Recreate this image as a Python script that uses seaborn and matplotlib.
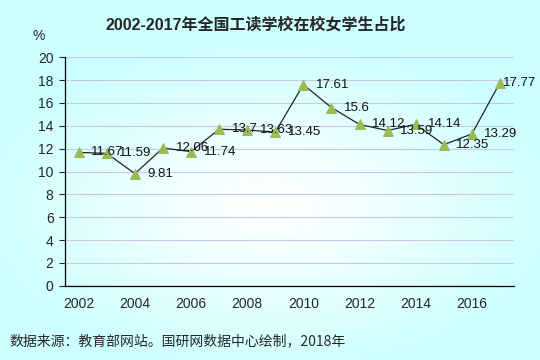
import numpy as np
import pandas as pd
import matplotlib
matplotlib.use("Agg")
import matplotlib.pyplot as plt
import seaborn as sns

years = list(range(2002, 2018))
share = [11.67, 11.59, 9.81, 12.06, 11.74, 13.7, 13.63, 13.45,
         17.61, 15.6, 14.12, 13.59, 14.14, 12.35, 13.29, 17.77]
labels = ["11.67", "11.59", "9.81", "12.06", "11.74", "13.7", "13.63", "13.45",
          "17.61", "15.6", "14.12", "13.59", "14.14", "12.35", "13.29", "17.77"]
tick_years = [2002, 2004, 2006, 2008, 2010, 2012, 2014, 2016]

title = "2002-2017年全国工读学校在校女学生占比"
source = "数据来源：教育部网站。国研网数据中心绘制，2018年"

sns.set_style("white")
plt.rcParams["font.family"] = ["Liberation Sans", "Noto Sans CJK SC", "DejaVu Sans"]

df = pd.DataFrame({"year": years, "share": share})

fig = plt.figure(figsize=(5.4, 3.6), dpi=100)

# radial background: white centre, pale cyan edges
bg = fig.add_axes([0, 0, 1, 1], zorder=-10)
yy, xx = np.mgrid[1:-1:200j, -1:1:300j]
r = np.clip(np.sqrt(xx ** 2 + ((yy + 0.15) / 0.85) ** 2) / 1.1, 0, 1)
white = np.array([1.0, 1.0, 1.0])
cyan = np.array([0.80, 1.0, 1.0])
w = r[..., None] ** 1.1
img = white[None, None, :] * (1 - w) + cyan[None, None, :] * w
bg.imshow(img, aspect="auto", extent=[0, 1, 0, 1])
bg.set_axis_off()

ax = fig.add_axes([0.1198, 0.2064, 0.832, 0.6344])
ax.patch.set_alpha(0)

sns.lineplot(data=df, x="year", y="share", ax=ax, color="#222222", linewidth=0.9,
             marker="^", markersize=7, markerfacecolor="#9bbb59",
             markeredgecolor="#9bbb59", zorder=3)

for i, (x, y, t) in enumerate(zip(years, share, labels)):
    dx = 2 if i == len(years) - 1 else 9   # last label squeezed against the edge
    ax.annotate(t, (x, y), xytext=(dx, 0), textcoords="offset points",
                ha="left", va="center", fontsize=9.5, color="#111111", zorder=4)

ax.set_xlim(2001.5, 2017.5)
ax.set_ylim(0, 20)
ax.set_yticks(range(0, 21, 2))
ax.set_xticks(tick_years)
ax.set_xticks(np.arange(2002.5, 2017.6, 1), minor=True)
ax.tick_params(axis="x", which="major", length=0, labelsize=10, pad=8)
ax.tick_params(axis="x", which="minor", length=4, direction="in", width=0.8)
ax.tick_params(axis="y", length=4, direction="out", width=0.8, labelsize=10, pad=4, left=True)
ax.yaxis.grid(True, color="#c8c8e6", linewidth=0.8)
ax.set_axisbelow(True)
ax.set_xlabel("")
ax.set_ylabel("")
for s in ["top", "right"]:
    ax.spines[s].set_visible(False)
for s in ["left", "bottom"]:
    ax.spines[s].set_color("black")
    ax.spines[s].set_linewidth(0.9)

fig.text(0.474, 0.93, title, ha="center", va="center", fontsize=11.5, fontweight="bold")
fig.text(0.072, 0.9, "%", ha="center", va="center", fontsize=10)
fig.text(0.018, 0.052, source, ha="left", va="center", fontsize=10,
         family=["Noto Sans CJK SC", "DejaVu Sans"])

fig.savefig("out.png", dpi=100)
